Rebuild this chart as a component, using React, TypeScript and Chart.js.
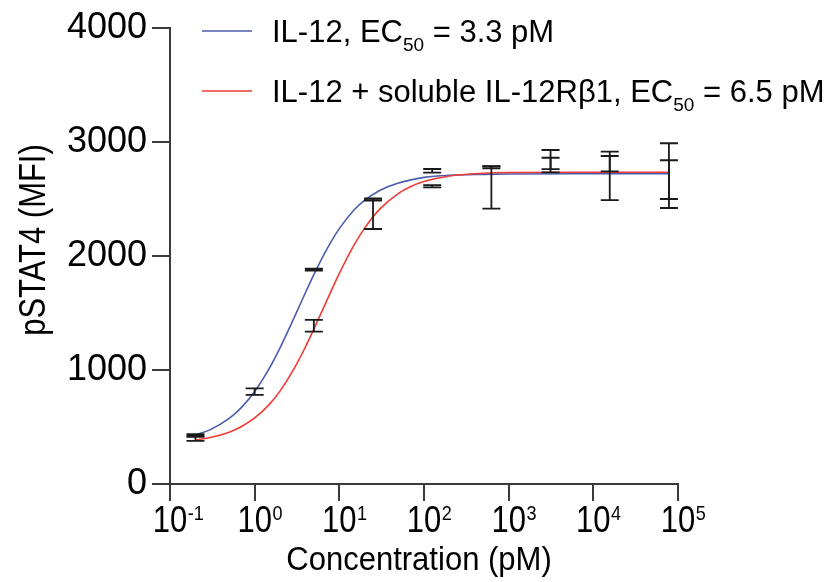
import React, { useEffect, useRef } from "react";
import { Chart, registerables } from "chart.js";

Chart.register(...registerables);

// ---- Data ----
const curveConc = [0.2, 0.3, 0.5, 0.7, 1, 1.5, 2, 3, 4, 5, 7, 10, 15, 20, 30, 50, 70, 100, 200, 500, 1000, 10000, 78125];
const blueCurve = [430, 477, 575, 672, 811, 1018, 1196, 1477, 1682, 1837, 2050, 2240, 2406, 2490, 2575, 2640, 2668, 2690, 2708, 2716, 2719, 2721, 2721];
const redCurve = [386, 408, 455, 504, 579, 701, 817, 1027, 1206, 1358, 1598, 1847, 2099, 2247, 2411, 2550, 2610, 2653, 2702, 2726, 2732, 2735, 2735];

const pointConc = [0.2, 1, 5, 25, 125, 625, 3125, 15625, 78125];
const blueMean = [425, 810, 1880, 2495, 2747, 2778, 2846, 2703, 2705];
const blueSd = [12, 29, 8, 10, 16, 10, 84, 212, 284];
const redMean = [400, null, 1388, 2364, 2612, 2600, 2798, 2810, 2670];
const redSd = [22, null, 52, 127, 10, 185, 64, 67, 170];

const yTicks = [0, 1000, 2000, 3000, 4000];
const xExponents = [-1, 0, 1, 2, 3, 4, 5];

const seriesNames = ["IL-12, EC", "IL-12 + soluble IL-12R\u03b21, EC"];
const seriesSuffix = [" = 3.3 pM", " = 6.5 pM"];
const subText = "50";
const xTitle = "Concentration (pM)";
const yTitle = "pSTAT4 (MFI)";

const BLUE = "#4a5cab";
const RED = "#ef3b33";
const AXIS = "#3a3a3a";
const FONT = "'Liberation Sans', Arial, Helvetica, sans-serif";

function scaledText(ctx: any, text: string, x: number, y: number, sx: number, align: string) {
  ctx.save();
  ctx.translate(x, y);
  ctx.scale(sx, 1);
  ctx.textAlign = align;
  ctx.fillText(text, 0, 0);
  ctx.restore();
}

const overlay = {
  id: "overlay",
  afterDatasetsDraw(chart: any) {
    const ctx = chart.ctx;
    const xs = chart.scales.x;
    const ys = chart.scales.y;
    ctx.save();
    ctx.strokeStyle = "#1a1a1a";
    ctx.lineWidth = 1.8;
    const drawBar = (c: number, m: number | null, s: number | null) => {
      if (m == null || s == null) return;
      const px = xs.getPixelForValue(c);
      const top = ys.getPixelForValue(m + s);
      const bot = ys.getPixelForValue(m - s);
      ctx.beginPath();
      ctx.moveTo(px, top);
      ctx.lineTo(px, bot);
      ctx.moveTo(px - 9, top);
      ctx.lineTo(px + 9, top);
      ctx.moveTo(px - 9, bot);
      ctx.lineTo(px + 9, bot);
      ctx.stroke();
    };
    pointConc.forEach((c, i) => {
      drawBar(c, blueMean[i], blueSd[i]);
      drawBar(c, redMean[i], redSd[i]);
    });
    ctx.restore();
  },
  afterDraw(chart: any) {
    const ctx = chart.ctx;
    const xs = chart.scales.x;
    const area = chart.chartArea;
    ctx.save();
    ctx.fillStyle = "#000";
    ctx.textBaseline = "alphabetic";
    // x tick labels with superscripts
    const sx = 0.86;
    xExponents.forEach((e) => {
      const px = xs.getPixelForValue(Math.pow(10, e));
      ctx.font = `36px ${FONT}`;
      const w = ctx.measureText("10").width * sx;
      scaledText(ctx, "10", px, 532, sx, "center");
      ctx.font = `21px ${FONT}`;
      scaledText(ctx, e < 0 ? "-" + Math.abs(e) : String(e), px + w / 2 + 0.5, 520, sx, "left");
    });
    // x title
    ctx.font = `33px ${FONT}`;
    scaledText(ctx, xTitle, (area.left + area.right) / 2 - 5, 570, 0.94, "center");
    // y title
    ctx.save();
    ctx.translate(35, 240);
    ctx.rotate(-Math.PI / 2);
    ctx.textBaseline = "middle";
    ctx.font = `36px ${FONT}`;
    scaledText(ctx, yTitle, 0, 0, 0.86, "center");
    ctx.restore();
    // legend
    const rows = [
      { color: BLUE, y: 31 },
      { color: RED, y: 91 },
    ];
    rows.forEach((r, i) => {
      ctx.strokeStyle = r.color;
      ctx.lineWidth = 1.6;
      ctx.beginPath();
      ctx.moveTo(202, r.y);
      ctx.lineTo(252, r.y);
      ctx.stroke();
      const base = r.y + 11;
      let x = 272;
      ctx.textAlign = "left";
      ctx.textBaseline = "alphabetic";
      ctx.font = `31px ${FONT}`;
      ctx.fillText(seriesNames[i], x, base);
      x += ctx.measureText(seriesNames[i]).width;
      ctx.font = `19px ${FONT}`;
      ctx.fillText(subText, x, base + 9);
      x += ctx.measureText(subText).width;
      ctx.font = `31px ${FONT}`;
      ctx.fillText(seriesSuffix[i], x, base);
    });
    ctx.restore();
  },
};

export default function App() {
  const ref = useRef<HTMLCanvasElement>(null);
  useEffect(() => {
    if (!ref.current) return;
    const chart = new Chart(ref.current, {
      type: "line",
      data: {
        datasets: [
          {
            label: "red",
            data: curveConc.map((c, i) => ({ x: c, y: redCurve[i] })),
            borderColor: RED,
            borderWidth: 1.6,
            pointRadius: 0,
            cubicInterpolationMode: "monotone",
          },
          {
            label: "blue",
            data: curveConc.map((c, i) => ({ x: c, y: blueCurve[i] })),
            borderColor: BLUE,
            borderWidth: 1.6,
            pointRadius: 0,
            cubicInterpolationMode: "monotone",
          },
        ],
      },
      options: {
        animation: false,
        responsive: false,
        events: [],
        layout: { padding: { left: 0, right: 148, top: 28, bottom: 0 } },
        plugins: { legend: { display: false }, tooltip: { enabled: false } },
        scales: {
          x: {
            type: "logarithmic",
            min: 0.1,
            max: 100000,
            afterBuildTicks: (s: any) => {
              s.ticks = xExponents.map((e) => ({ value: Math.pow(10, e) }));
            },
            afterFit: (s: any) => {
              s.height = 98;
            },
            ticks: { display: false },
            grid: { drawOnChartArea: false, drawTicks: true, tickLength: 17, color: AXIS, lineWidth: 2 },
            border: { color: AXIS, width: 2 },
          },
          y: {
            type: "linear",
            min: 0,
            max: 4000,
            afterBuildTicks: (s: any) => {
              s.ticks = yTicks.map((v) => ({ value: v }));
            },
            afterFit: (s: any) => {
              s.width = 170;
            },
            ticks: {
              color: "#000",
              font: { size: 36, family: FONT },
              padding: 5,
              callback: (v: any) => String(v),
            },
            grid: { drawOnChartArea: false, drawTicks: true, tickLength: 18, color: AXIS, lineWidth: 2 },
            border: { color: AXIS, width: 2 },
          },
        },
      },
      plugins: [overlay],
    } as any);
    return () => chart.destroy();
  }, []);
  return (
    <div style={{ position: "fixed", left: 0, top: 0, width: 826, height: 582, background: "#fff" }}>
      <canvas ref={ref} width={826} height={582} style={{ display: "block" }} />
    </div>
  );
}
